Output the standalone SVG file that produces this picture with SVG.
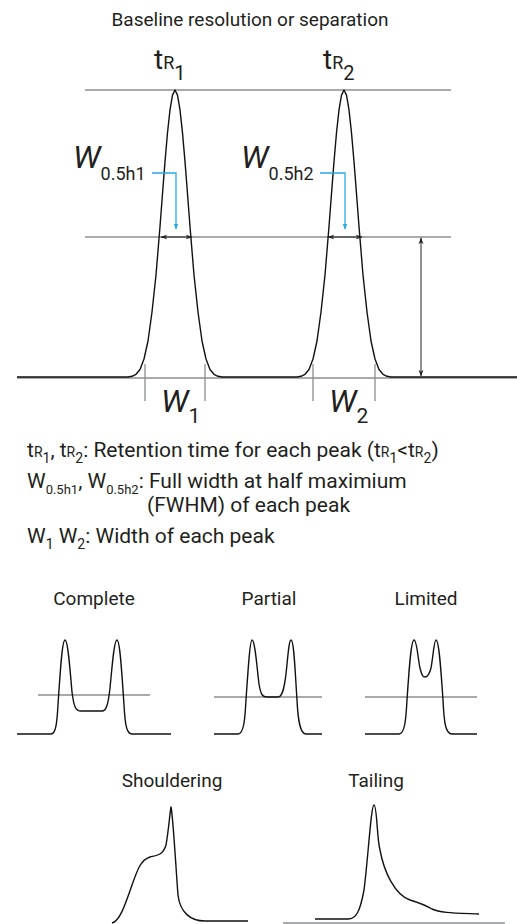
<svg xmlns="http://www.w3.org/2000/svg" width="517" height="924" viewBox="0 0 517 924">
<style>
text{font-family:Roboto,"Liberation Sans",sans-serif;fill:#231f20}
.ref{stroke:#8c8e90;stroke-width:1.3;fill:none}
.curve{stroke:#111;stroke-width:1.4;fill:none;stroke-linejoin:round}
.blue{stroke:#29abe2;stroke-width:1.3;fill:none}
.dim{stroke:#222;stroke-width:1;fill:none}
.lbl{font-size:19px;text-anchor:middle}
.body{font-size:21px}
</style>
<defs>
<marker id="ab" viewBox="0 0 10 10" refX="9" refY="5" markerWidth="6" markerHeight="6" orient="auto-start-reverse" markerUnits="userSpaceOnUse">
<path d="M0,1 L10,5 L0,9 Z" fill="#29abe2"/>
</marker>
<marker id="ak" viewBox="0 0 10 10" refX="9" refY="5" markerWidth="7" markerHeight="7" orient="auto-start-reverse" markerUnits="userSpaceOnUse">
<path d="M0,1.5 L10,5 L0,8.5 L3,5 Z" fill="#222"/>
</marker>
</defs>

<g id="title"><text class="lbl" x="250" y="26">Baseline resolution or separation</text></g>

<g id="reference-lines">
<line class="ref" x1="85" y1="90" x2="451" y2="90"/>
<line class="ref" x1="85" y1="237" x2="451" y2="237"/>
<line class="ref" x1="17" y1="378" x2="517" y2="378" stroke-width="1.6"/>
<line class="ref" x1="145" y1="364" x2="145" y2="401"/>
<line class="ref" x1="205" y1="364" x2="205" y2="401"/>
<line class="ref" x1="313" y1="364" x2="313" y2="401"/>
<line class="ref" x1="375" y1="364" x2="375" y2="401"/>
</g>

<g id="chromatogram">
<polyline class="curve" points="17,377 128,377 132,376.3 136,374.3 140,369.5 144,359 148,341 152,312 156,275 160,226.5 162.5,193.7 165,161.6 167.5,132.8 170,109.8 172.5,95.1 175,90 177.5,95.1 180,109.8 182.5,132.8 185,161.6 187.5,193.7 190,226.5 194,275 198,312 202,341 206,359 210,369.5 214,374.3 218,376.3 222,377 297,377 301,376.3 305,374.3 309,369.5 313,359 317,341 321,312 325,275 329,226.5 331.5,193.7 334,161.6 336.5,132.8 339,109.8 341.5,95.1 344,90 346.5,95.1 349,109.8 351.5,132.8 354,161.6 356.5,193.7 359,226.5 363,275 367,312 371,341 375,359 379,369.5 383,374.3 387,376.3 391,377 517,377"/>
</g>

<g id="label-tR1"><text x="154" y="69" font-size="28">t<tspan font-size="18">R</tspan><tspan font-size="20" dy="11">1</tspan></text></g>
<g id="label-tR2"><text x="323" y="69" font-size="28">t<tspan font-size="18">R</tspan><tspan font-size="20" dy="11">2</tspan></text></g>

<g id="label-w05h1"><text x="73" y="168" font-size="32" font-style="italic">W<tspan font-size="18" font-style="normal" dy="12">0.5h1</tspan></text></g>
<g id="label-w05h2"><text x="241" y="168" font-size="32" font-style="italic">W<tspan font-size="18" font-style="normal" dy="12">0.5h2</tspan></text></g>

<g id="label-w1"><text x="161" y="412" font-size="32" font-style="italic">W<tspan font-size="21" font-style="normal" dy="11">1</tspan></text></g>
<g id="label-w2"><text x="329" y="412" font-size="32" font-style="italic">W<tspan font-size="21" font-style="normal" dy="11">2</tspan></text></g>

<g id="connectors">
<path class="blue" d="M152,173 H176 V229" marker-end="url(#ab)"/>
<path class="blue" d="M320,173 H345 V229" marker-end="url(#ab)"/>
<line class="dim" x1="161" y1="237" x2="192" y2="237" marker-start="url(#ak)" marker-end="url(#ak)"/>
<line class="dim" x1="328" y1="237" x2="362" y2="237" marker-start="url(#ak)" marker-end="url(#ak)"/>
<line class="dim" x1="421" y1="238" x2="421" y2="376" marker-start="url(#ak)" marker-end="url(#ak)"/>
</g>

<g id="legend">
<text class="body" x="27" y="457">t<tspan font-size="14">R</tspan><tspan font-size="14" dy="6">1</tspan><tspan dy="-6">, t</tspan><tspan font-size="14">R</tspan><tspan font-size="14" dy="6">2</tspan><tspan dy="-6">: Retention time for each peak (t</tspan><tspan font-size="14">R</tspan><tspan font-size="14" dy="6">1</tspan><tspan dy="-6">&lt;t</tspan><tspan font-size="14">R</tspan><tspan font-size="14" dy="6">2</tspan><tspan dy="-6">)</tspan></text>
<text class="body" x="27" y="488">W<tspan font-size="13" dy="6">0.5h1</tspan><tspan dy="-6">, W</tspan><tspan font-size="13" dy="6">0.5h2</tspan><tspan dy="-6">: Full width at half maximium</tspan></text>
<text class="body" x="147" y="512">(FWHM) of each peak</text>
<text class="body" x="27" y="543">W<tspan font-size="14" dy="6">1</tspan><tspan dy="-6"> W</tspan><tspan font-size="14" dy="6">2</tspan><tspan dy="-6">: Width of each peak</tspan></text>
</g>

<g id="complete">
<text class="lbl" x="94" y="605">Complete</text>
<line class="ref" x1="38" y1="695" x2="150" y2="695"/>
<path class="curve" d="M17,734 H51 C56,734 57,722 58,705 C60,675 62,640 65,640 C68,640 70,670 72,692 C74,708 76,711 81,711 H102 C106,711 108,706 110,688 C112,668 114,640 117,640 C120,640 122,675 124,705 C125,722 126,734 132,734 H171"/>
</g>

<g id="partial">
<text class="lbl" x="269" y="605">Partial</text>
<line class="ref" x1="214" y1="697" x2="322" y2="697"/>
<path class="curve" d="M214,734 H238 C244,734 245,718 246,700 C248,670 250,640 252,640 C255,640 257,668 259,684 C261,696 263,697 267,697 H278 C282,697 284,690 286,674 C288,655 289,640 291,640 C294,640 295,670 297,700 C298,720 300,734 306,734 H322"/>
</g>

<g id="limited">
<text class="lbl" x="426" y="605">Limited</text>
<line class="ref" x1="365" y1="697" x2="477" y2="697"/>
<path class="curve" d="M365,734 H399 C405,734 406,718 407,700 C409,670 411,640 414,640 C417,640 418,660 420,668 C422,676 423,677 425,677 C427,677 429,676 431,668 C433,658 434,640 436,640 C439,640 441,670 443,700 C444,720 445,734 452,734 H477"/>
</g>

<g id="shouldering">
<text class="lbl" x="172" y="787">Shouldering</text>
<path class="curve" d="M112,923 C120,921 125,905 132,885 C138,868 141,860 150,857 C158,855 163,855 166,845 C168,835 170,812 171,807 C173,815 176,870 178,895 C180,912 190,921 205,921 H248"/>
</g>

<g id="tailing">
<text class="lbl" x="376" y="787">Tailing</text>
<line class="ref" x1="283" y1="923" x2="505" y2="923" stroke-width="2"/>
<path class="curve" d="M315,919 H348 C356,919 360,912 364,890 C368,860 371,805 374,805 C377,805 377,840 380,850 C384,872 395,895 410,900 C420,903 425,905 432,909 C440,913 455,913 479,914"/>
</g>
</svg>
